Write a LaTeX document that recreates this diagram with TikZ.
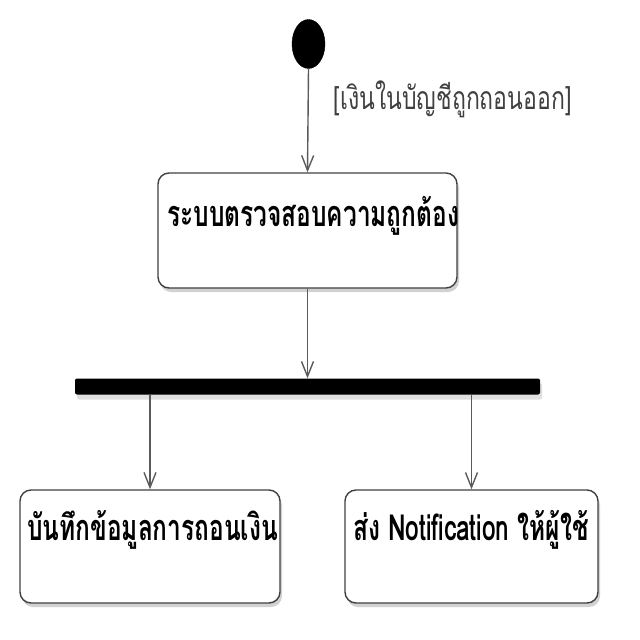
\documentclass[tikz,border=0pt]{standalone}
\usepackage{fontspec}
\newfontfamily\thaifont[Script=Thai, FakeStretch=0.68]{Loma}
\newfontfamily\thaiguard[Script=Thai, FakeStretch=0.72]{Loma}
\usetikzlibrary{arrows.meta,shapes.geometric,shadows,calc}
\definecolor{edgegray}{HTML}{5A5A5A}
\definecolor{boxgray}{HTML}{404040}
\tikzset{
  actbox/.style={draw=boxgray, line width=1.4pt, rounded corners=11pt, fill=white,
    drop shadow={shadow xshift=2pt, shadow yshift=-4pt, fill=gray!60, opacity=0.6}},
  boxtext/.style={anchor=west, font=\thaifont\bfseries\fontsize{36}{40}\selectfont, inner sep=0pt},
  flow/.style={draw=edgegray, line width=1.4pt, -{Straight Barb[length=15pt,width=12pt,line width=1.4pt]}},
  guardtext/.style={font=\thaiguard\fontsize{32}{36}\selectfont, text=black!75, inner sep=0pt}
}
\begin{document}
\begin{tikzpicture}[x=1pt,y=-1pt]
\useasboundingbox (0,0) rectangle (640,640);
\node[ellipse, fill=black, draw=black, minimum width=33pt, minimum height=49pt, inner sep=0pt] (start) at (308.5,44) {};
\node[actbox, minimum width=299pt, minimum height=115pt, inner sep=0pt] (check) at (307.5,230.5) {};
\node[boxtext] (checktext) at (167,216) {ระบบตรวจสอบความถูกต้อง};
\node[fill=black, minimum width=465pt, minimum height=16pt, inner sep=0pt, rounded corners=2pt,
  drop shadow={shadow xshift=2pt, shadow yshift=-5pt, fill=gray!50, opacity=0.5}] (bar) at (307.5,386.5) {};
\node[actbox, minimum width=260pt, minimum height=113pt, inner sep=0pt] (save) at (150,546.5) {};
\node[boxtext] (savetext) at (27,530) {บันทึกข้อมูลการถอนเงิน};
\node[actbox, minimum width=253pt, minimum height=113pt, inner sep=0pt] (notify) at (471.5,546.5) {};
\node[boxtext] (notifytext) at (353,530) {ส่ง Notification ให้ผู้ใช้};
\draw[flow] (start.south) -- node[guardtext, pos=0.3, anchor=west, xshift=25pt] (guard) {[เงินในบัญชีถูกถอนออก]} (check.north);
\draw[flow] (check.south) -- (bar.north);
\draw[flow] (bar.south -| save.north) -- (save.north);
\draw[flow] (bar.south -| notify.north) -- (notify.north);
\end{tikzpicture}
\end{document}
